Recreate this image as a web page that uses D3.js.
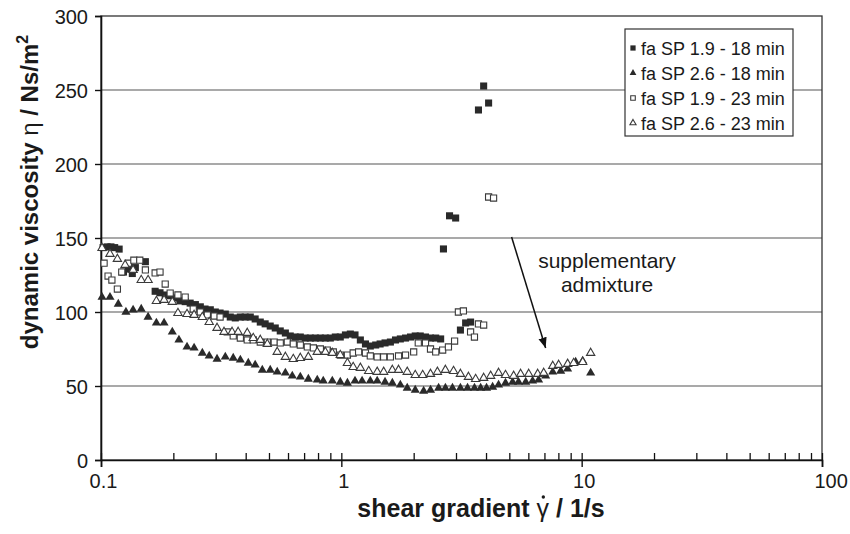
<!DOCTYPE html>
<html><head><meta charset="utf-8">
<script src="https://cdn.jsdelivr.net/npm/d3@7"></script>
<style>
body{margin:0;background:#fff}
svg{display:block}
text{font-family:"Liberation Sans",Arial,Helvetica,sans-serif;fill:#1a1a1a}
</style>
</head><body>
<svg id="chart" width="850" height="534"></svg>
<script>
// Dynamic viscosity vs. shear gradient, four mixes
const seriesLabels = ["fa SP 1.9 - 18 min", "fa SP 2.6 - 18 min", "fa SP 1.9 - 23 min", "fa SP 2.6 - 23 min"];

const sp19m18X = [0.102,0.106,0.110,0.114,0.119,0.124,0.130,0.135,0.139,0.153,0.168,0.176,0.185,0.194,0.203,0.213,0.224,0.235,0.247,0.259,0.271,0.285,0.299,0.313,0.329,0.345,0.362,0.380,0.398,0.418,0.438,0.460,0.482,0.506,0.531,0.557,0.585,0.613,0.643,0.675,0.708,0.743,0.780,0.818,0.858,0.900,0.944,0.990,1.04,1.09,1.14,1.20,1.26,1.32,1.39,1.45,1.52,1.60,1.68,1.76,1.85,1.94,2.03,2.13,2.24,2.35,2.47,2.59,2.66,2.82,2.99,3.13,3.29,3.45,3.72,3.91,4.10];
const sp19m18Y = [143.5,144,144,143.5,142.5,127,129,126,130,134,114,113,111.5,111,109.5,107.5,107,106,105,103.5,102,101.5,100,99.3,98.6,96.6,96,96.6,96.6,96.6,95.3,93.2,92,90.5,89.2,87.2,85.8,83.8,83.1,83.1,82.4,82.4,82.4,82.4,82.4,82.4,83.1,83.1,84.5,85.1,84.5,81.1,78.4,77,77.7,78.4,79.1,79.7,81.1,81.8,82.4,83.1,83.8,83.8,83.1,82.4,82.4,81.8,142.6,165,163.5,87.8,92.6,93.2,236.5,252.7,241.2];

const sp26m18X = [0.101,0.109,0.118,0.127,0.136,0.147,0.157,0.170,0.183,0.198,0.211,0.228,0.244,0.264,0.282,0.304,0.329,0.355,0.380,0.410,0.438,0.469,0.506,0.541,0.585,0.625,0.675,0.729,0.794,0.841,0.917,0.990,1.06,1.14,1.22,1.32,1.41,1.52,1.63,1.76,1.88,2.03,2.20,2.35,2.54,2.71,2.90,3.13,3.35,3.58,3.80,4.02,4.26,4.51,4.82,5.16,5.46,5.85,6.25,6.62,7.08,7.58,8.18,8.74,9.44,10.1,10.9];
const sp26m18Y = [110,110,105.4,100,101.4,102,96.6,92.6,92.6,86.5,81.1,76.4,75.7,72.3,70.3,68.2,69.6,68.9,67.6,65.5,64.2,60.8,60.8,59.5,58.8,56.8,56.1,54.7,54.1,53.4,53.4,52.7,52,53.4,53.4,53.4,53.4,52.7,52,50.7,48.6,47.3,46.6,47.3,48.6,48.6,48.6,48.6,48.6,48.6,48.6,48.6,49.3,50.7,52,52.7,52.7,52.7,53.4,54.1,56.8,59.5,60.1,61.5,66.2,66.9,58.8];

const sp19m23X = [0.103,0.107,0.111,0.117,0.122,0.130,0.137,0.145,0.153,0.168,0.176,0.185,0.194,0.209,0.224,0.242,0.259,0.277,0.296,0.313,0.335,0.355,0.380,0.406,0.430,0.460,0.492,0.526,0.557,0.596,0.631,0.675,0.722,0.765,0.818,0.874,0.926,0.990,1.06,1.12,1.18,1.26,1.32,1.41,1.50,1.60,1.73,1.85,2.00,2.09,2.24,2.35,2.47,2.64,2.79,2.96,3.07,3.22,3.45,3.58,3.72,3.91,4.10,4.30];
const sp19m23Y = [133,124.3,121.6,115.5,127,133,135,135,128.4,126.4,127,118.9,112.8,111.5,110.1,102,100,98,97.3,96.6,86.5,83.8,82.4,81.1,81.1,79.7,79.7,79.7,79.1,79.7,78.4,77.7,76.4,75.7,75,74.3,73,70.9,70.9,72.3,73,72.3,70.3,69.6,69.6,69.6,70.3,70.9,73,79.1,79.1,75,73,74.3,76.4,80.4,100,100.7,86.5,83.1,91.9,91.2,177.7,177];

const sp26m23X = [0.101,0.109,0.117,0.126,0.136,0.147,0.157,0.170,0.183,0.198,0.209,0.228,0.244,0.264,0.282,0.304,0.325,0.351,0.372,0.406,0.430,0.460,0.492,0.541,0.585,0.631,0.675,0.729,0.794,0.858,0.917,0.990,1.06,1.12,1.20,1.30,1.41,1.50,1.63,1.73,1.88,2.03,2.18,2.35,2.51,2.71,2.93,3.13,3.38,3.62,3.91,4.18,4.51,4.82,5.21,5.57,6.02,6.56,6.95,7.58,8.02,8.74,9.26,10.1,10.9];
const sp26m23Y = [143.2,139.2,135.8,131.8,128.4,121.6,121.6,107.4,108.1,106.8,99.3,98.6,98,96.6,93.2,89.2,86.5,86.5,86.5,85.8,82.4,81.1,78.4,73,69.6,68.2,68.9,69.6,73,73,72.3,70.9,65.5,62.8,62.2,60.1,59.5,59.5,60.8,60.8,59.5,57.4,57.4,58.1,59.5,60.8,60.1,58.1,56.1,54.7,55.4,56.8,58.8,57.4,56.8,58.1,58.1,58.1,58.8,63.5,64.2,64.9,65.5,66.2,72.3];

const xMajorTicks = [0.1, 1, 10, 100];
const xTickLabels = ["0.1", "1", "10", "100"];
const yTicks = [0, 50, 100, 150, 200, 250, 300];

const svg = d3.select("#chart");
const x = d3.scaleLog().domain([0.1, 100]).range([101, 822]);
const y = d3.scaleLinear().domain([0, 300]).range([460, 16]);

// horizontal gridlines
svg.append("g")
  .selectAll("line").data(yTicks.filter(v => v > 0 && v < 300)).join("line")
  .attr("x1", x(0.1)).attr("x2", x(100))
  .attr("y1", d => y(d)).attr("y2", d => y(d))
  .attr("stroke", "#8c8c8c").attr("stroke-width", 1.6);

// frame
svg.append("rect")
  .attr("x", x(0.1)).attr("y", y(300))
  .attr("width", x(100) - x(0.1)).attr("height", y(0) - y(300))
  .attr("fill", "none").attr("stroke", "#333").attr("stroke-width", 1.3);

// y axis
const yAxis = svg.append("g").attr("transform", `translate(${x(0.1)},0)`)
  .call(d3.axisLeft(y).tickValues(yTicks).tickSize(6).tickPadding(7));
yAxis.select(".domain").attr("stroke", "#111").attr("stroke-width", 1.6);
yAxis.selectAll(".tick line").attr("stroke", "#111").attr("stroke-width", 1.4);
yAxis.selectAll("text").attr("font-size", 20).attr("dy", "0.36em");

// x axis: minor ticks point up, decades cross the axis
const minorTicks = [];
[0.1, 1, 10].forEach(d => { for (let k = 1; k <= 9; k++) minorTicks.push(d * k); });
minorTicks.push(100);
const xMinor = svg.append("g").attr("transform", `translate(0,${y(0)})`)
  .call(d3.axisBottom(x).tickValues(minorTicks).tickSize(-7).tickFormat(""));
xMinor.select(".domain").remove();
xMinor.selectAll(".tick line").attr("stroke", "#111").attr("stroke-width", 1.3);

const xAxis = svg.append("g").attr("transform", `translate(0,${y(0)})`)
  .call(d3.axisBottom(x).tickValues(xMajorTicks).tickSize(7).tickPadding(7)
    .tickFormat((d, i) => xTickLabels[i]));
xAxis.select(".domain").attr("stroke", "#111").attr("stroke-width", 1.6);
xAxis.selectAll(".tick line").attr("stroke", "#111").attr("stroke-width", 1.4);
xAxis.selectAll("text").attr("font-size", 20).attr("dx", 2);
// the last decade label sits toward the right edge
xAxis.selectAll(".tick text").filter(d => d === 100)
  .attr("text-anchor", "start").attr("dx", -8);

svg.selectAll(".tick text").attr("fill", "#1a1a1a");

// axis titles
const xTitle = svg.append("text")
  .attr("x", 481).attr("y", 517).attr("text-anchor", "middle")
  .attr("font-size", 25).attr("font-weight", "bold");
xTitle.append("tspan").text("shear gradient ");
xTitle.append("tspan").attr("font-weight", "normal").text("\u03B3");
xTitle.append("tspan").text(" / 1/s");
// dot over the gamma (time derivative)
{
  const node = xTitle.node();
  const gi = "shear gradient ".length;
  const s = node.getStartPositionOfChar(gi), e = node.getEndPositionOfChar(gi);
  svg.append("circle").attr("cx", (s.x + e.x) / 2 + 0.5).attr("cy", 517 - 20)
    .attr("r", 1.7).attr("fill", "#1a1a1a");
}

const yTitle = svg.append("text")
  .attr("transform", "translate(38,192) rotate(-90)")
  .attr("text-anchor", "middle").attr("font-size", 24).attr("font-weight", "bold");
yTitle.append("tspan").text("dynamic viscosity ");
yTitle.append("tspan").attr("font-weight", "normal").text("\u03B7");
yTitle.append("tspan").text(" / Ns/m");
yTitle.append("tspan").attr("font-size", 16).attr("dy", -10).text("2");

// markers
const symSquare = d3.symbol().type(d3.symbolSquare);
const symTri = d3.symbol().type(d3.symbolTriangle);
const styles = [
  { xs: sp19m18X, ys: sp19m18Y, type: "square", filled: true },
  { xs: sp26m18X, ys: sp26m18Y, type: "tri", filled: true },
  { xs: sp19m23X, ys: sp19m23Y, type: "square", filled: false },
  { xs: sp26m23X, ys: sp26m23Y, type: "tri", filled: false }
];
function markerPath(s, scale) {
  if (s.type === "square") return symSquare.size((s.filled ? 50 : 38) * scale)();
  return symTri.size((s.filled ? 36 : 30) * scale)();
}
function styleMarker(sel, s) {
  sel.attr("fill", s.filled ? "#2a2a2a" : "#fff")
     .attr("stroke", s.filled ? "none" : "#3a3a3a")
     .attr("stroke-width", 1.1);
}
styles.forEach(s => {
  const pts = s.xs.map((v, i) => [v, s.ys[i]]);
  const g = svg.append("g");
  g.selectAll("path").data(pts).join("path")
    .attr("d", markerPath(s, 1))
    .attr("transform", d => `translate(${x(d[0])},${y(d[1])})`)
    .call(sel => styleMarker(sel, s));
});

// legend
const legend = svg.append("g");
legend.append("rect").attr("x", 625).attr("y", 29).attr("width", 168).attr("height", 107)
  .attr("fill", "#fff").attr("stroke", "#333").attr("stroke-width", 1.2);
seriesLabels.forEach((lab, i) => {
  const cy = 48 + i * 25;
  const p = legend.append("path").attr("d", markerPath(styles[i], 0.55))
    .attr("transform", `translate(633,${cy})`);
  styleMarker(p, styles[i]);
  legend.append("text").attr("x", 641).attr("y", cy + 6.5).attr("font-size", 18).text(lab);
});

// annotation
const arrowFrom = [5.11, 150.7], arrowTo = [7.08, 75.7];
svg.append("defs").append("marker").attr("id", "ah")
  .attr("viewBox", "0 0 10 10").attr("refX", 10).attr("refY", 5)
  .attr("markerWidth", 7).attr("markerHeight", 7).attr("orient", "auto")
  .append("path").attr("d", "M0,1 L10,5 L0,9 Z").attr("fill", "#111");
svg.append("line")
  .attr("x1", x(arrowFrom[0])).attr("y1", y(arrowFrom[1]))
  .attr("x2", x(arrowTo[0])).attr("y2", y(arrowTo[1]))
  .attr("stroke", "#111").attr("stroke-width", 1.5).attr("marker-end", "url(#ah)");
svg.append("text").attr("x", 607).attr("y", 268).attr("text-anchor", "middle")
  .attr("font-size", 21).text("supplementary");
svg.append("text").attr("x", 607).attr("y", 292).attr("text-anchor", "middle")
  .attr("font-size", 21).text("admixture");
</script>
</body></html>
